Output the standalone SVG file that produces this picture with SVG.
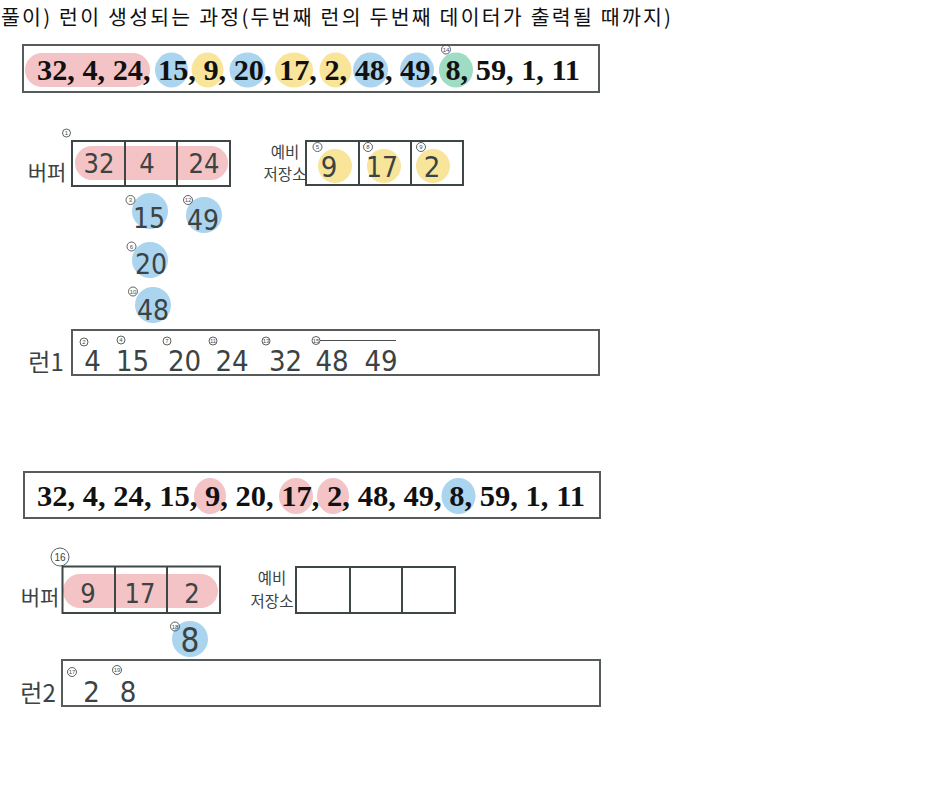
<svg xmlns="http://www.w3.org/2000/svg" width="936" height="800" viewBox="0 0 936 800">
<style>
.box{fill:none;stroke:#565b5b;stroke-width:2}
.cell{fill:none;stroke:#3f4646;stroke-width:2}
.seq{font-family:"Liberation Serif","Times New Roman",serif;font-weight:bold;font-size:30px;fill:#111}
.title{font-family:"Noto Sans CJK KR","Noto Sans",sans-serif;font-size:20.5px;fill:#111}
.hw{font-family:"DejaVu Sans Condensed","DejaVu Sans","Liberation Sans",sans-serif;font-weight:200;fill:#3c4343;text-anchor:middle}
.lbl{font-family:"Noto Sans CJK KR",sans-serif;fill:#3c4343;text-anchor:middle}
.pink{fill:#f3c3c5}
.blue{fill:#abd4ef}
.yel{fill:#f8e59a}
.grn{fill:#9fdcc5}
.sc{fill:none;stroke:#4a5050;stroke-width:0.9}
.st{font-family:"Liberation Sans",sans-serif;font-size:6px;fill:#4a5050;text-anchor:middle}
</style>
<rect width="936" height="800" fill="#fff"/>
<text class="title" x="1" y="25" textLength="670" lengthAdjust="spacing">풀이) 런이 생성되는 과정(두번째 런의 두번째 데이터가 출력될 때까지)</text>

<g id="seq1">
<rect class="box" x="23" y="45" width="576" height="47"/>
<rect class="pink" x="25" y="53" width="125" height="34" rx="17"/>
<ellipse class="blue" cx="171.5" cy="70" rx="16.5" ry="17.5"/>
<ellipse class="yel" cx="207.5" cy="70" rx="16" ry="17.5"/>
<ellipse class="blue" cx="247.5" cy="70" rx="18" ry="17.5"/>
<ellipse class="yel" cx="294" cy="70" rx="19" ry="17.5"/>
<ellipse class="yel" cx="335.5" cy="70" rx="16" ry="17.5"/>
<ellipse class="blue" cx="370.5" cy="70" rx="17.5" ry="17.5"/>
<ellipse class="blue" cx="417" cy="70" rx="17" ry="17.5"/>
<ellipse class="grn" cx="456" cy="70" rx="17" ry="17.5"/>
<text class="seq" x="37" y="80" textLength="543" lengthAdjust="spacingAndGlyphs">32, 4, 24, 15, 9, 20, 17, 2, 48, 49, 8, 59, 1, 11</text>
<circle class="sc" cx="446" cy="49.5" r="4.5"/><text class="st" x="446" y="51.5">14</text>
</g>

<g id="buffer1">
<rect class="pink" x="75" y="146" width="153" height="34" rx="17"/>
<rect class="cell" x="72" y="141" width="158" height="45"/>
<line class="cell" x1="125" y1="141" x2="125" y2="186"/>
<line class="cell" x1="177" y1="141" x2="177" y2="186"/>
<text class="lbl" x="47" y="180" font-size="21">버퍼</text>
<circle class="sc" cx="66.5" cy="133" r="4"/><text class="st" x="66.5" y="135">1</text>
<text class="hw" x="99" y="173" font-size="27">32</text>
<text class="hw" x="147" y="173" font-size="27">4</text>
<text class="hw" x="204" y="173" font-size="27">24</text>
</g>

<g id="reserve1">
<text class="lbl" x="285" y="158" font-size="15.5">예비</text>
<text class="lbl" x="285" y="180" font-size="15.5">저장소</text>
<circle class="yel" cx="335" cy="166" r="17"/>
<circle class="yel" cx="384" cy="166" r="17"/>
<circle class="yel" cx="433" cy="166" r="17"/>
<rect class="cell" x="306" y="141" width="157" height="44"/>
<line class="cell" x1="359" y1="141" x2="359" y2="185"/>
<line class="cell" x1="411" y1="141" x2="411" y2="185"/>
<text class="hw" x="329" y="177" font-size="29">9</text>
<text class="hw" x="382" y="177" font-size="28">17</text>
<text class="hw" x="432" y="177" font-size="29">2</text>
<circle class="sc" cx="317.5" cy="147" r="4.5"/><text class="st" x="317.5" y="149">5</text>
<circle class="sc" cx="368" cy="147" r="4.5"/><text class="st" x="368" y="149">8</text>
<circle class="sc" cx="421" cy="147" r="4.5"/><text class="st" x="421" y="149">9</text>
</g>

<g id="pending1">
<circle class="blue" cx="150" cy="211" r="18"/>
<circle class="blue" cx="204" cy="215" r="18"/>
<circle class="blue" cx="150" cy="260" r="18"/>
<circle class="blue" cx="153" cy="305" r="18"/>
<text class="hw" x="149" y="228" font-size="28">15</text>
<text class="hw" x="203" y="230" font-size="28">49</text>
<text class="hw" x="151" y="274" font-size="28">20</text>
<text class="hw" x="153" y="320" font-size="28">48</text>
<circle class="sc" cx="130.5" cy="200" r="4.5"/><text class="st" x="130.5" y="202">3</text>
<circle class="sc" cx="188" cy="200" r="4.5"/><text class="st" x="188" y="202">12</text>
<circle class="sc" cx="131.5" cy="246.5" r="4.5"/><text class="st" x="131.5" y="248.5">6</text>
<circle class="sc" cx="133" cy="291.5" r="4.5"/><text class="st" x="133" y="293.5">10</text>
</g>

<g id="run1">
<rect class="box" x="72" y="330" width="527" height="45"/>
<text class="lbl" x="46" y="371" font-size="24">런1</text>
<text class="hw" x="92.5" y="371" font-size="29">4</text>
<text class="hw" x="132.5" y="371" font-size="29">15</text>
<text class="hw" x="184.5" y="371" font-size="29">20</text>
<text class="hw" x="232" y="371" font-size="29">24</text>
<text class="hw" x="285.5" y="371" font-size="29">32</text>
<text class="hw" x="332" y="371" font-size="29">48</text>
<text class="hw" x="381" y="371" font-size="29">49</text>
<circle class="sc" cx="84" cy="342" r="4"/><text class="st" x="84" y="344">2</text>
<circle class="sc" cx="121" cy="340" r="4"/><text class="st" x="121" y="342">4</text>
<circle class="sc" cx="167" cy="341" r="4"/><text class="st" x="167" y="343">7</text>
<circle class="sc" cx="213" cy="341" r="4"/><text class="st" x="213" y="343">11</text>
<circle class="sc" cx="266" cy="341" r="4"/><text class="st" x="266" y="343">13</text>
<circle class="sc" cx="316" cy="340.5" r="4"/><text class="st" x="316" y="342.5">15</text>
<line x1="320" y1="340.5" x2="396" y2="340.5" stroke="#4a5050" stroke-width="1"/>
</g>

<g id="seq2">
<rect class="box" x="24" y="472" width="576" height="46"/>
<ellipse class="pink" cx="210" cy="496" rx="16" ry="18"/>
<ellipse class="pink" cx="296" cy="496" rx="17" ry="18"/>
<ellipse class="pink" cx="333" cy="496" rx="16" ry="18"/>
<ellipse class="blue" cx="458.5" cy="496" rx="17" ry="18"/>
<text class="seq" x="37" y="506" textLength="548" lengthAdjust="spacingAndGlyphs">32, 4, 24, 15, 9, 20, 17, 2, 48, 49, 8, 59, 1, 11</text>
</g>

<g id="buffer2">
<rect class="pink" x="63" y="574" width="155" height="34" rx="17"/>
<rect class="cell" x="62.5" y="566.5" width="157.5" height="46.5"/>
<line class="cell" x1="115" y1="566.5" x2="115" y2="613"/>
<line class="cell" x1="167" y1="566.5" x2="167" y2="613"/>
<text class="lbl" x="40" y="605" font-size="21">버퍼</text>
<circle class="sc" cx="60" cy="557" r="9"/><text x="60" y="561" font-family="Liberation Sans,sans-serif" font-size="10" fill="#3c4343" text-anchor="middle">16</text>
<text class="hw" x="88" y="603" font-size="27">9</text>
<text class="hw" x="140" y="603" font-size="27">17</text>
<text class="hw" x="192" y="603" font-size="27">2</text>
</g>

<g id="reserve2">
<text class="lbl" x="272" y="584" font-size="15.5">예비</text>
<text class="lbl" x="272" y="607" font-size="15.5">저장소</text>
<rect class="cell" x="296" y="567" width="159" height="46"/>
<line class="cell" x1="350" y1="567" x2="350" y2="613"/>
<line class="cell" x1="402" y1="567" x2="402" y2="613"/>
</g>

<g id="pending2">
<circle class="blue" cx="190" cy="639" r="18"/>
<text class="hw" x="190" y="652" font-size="33">8</text>
<circle class="sc" cx="175" cy="626.5" r="4.5"/><text class="st" x="175" y="628.5">18</text>
</g>

<g id="run2">
<rect class="box" x="62" y="660" width="538" height="46"/>
<text class="lbl" x="38" y="702" font-size="24">런2</text>
<text class="hw" x="91.5" y="702" font-size="29">2</text>
<text class="hw" x="128" y="702" font-size="29">8</text>
<circle class="sc" cx="72" cy="672" r="4.5"/><text class="st" x="72" y="674">17</text>
<circle class="sc" cx="117" cy="670" r="4.5"/><text class="st" x="117" y="672">19</text>
</g>

<g id="connectors"></g>
</svg>
